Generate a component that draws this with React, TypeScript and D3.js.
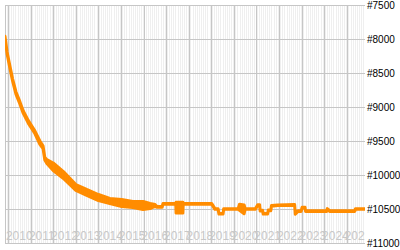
import React from "react";
import * as d3 from "d3";

const dates = [
  "2009-11-12", "2009-12-16", "2010-01-30", "2010-03-15", "2010-05-08", "2010-07-12",
  "2010-09-02", "2010-11-25", "2011-03-10", "2011-05-30", "2011-07-20", "2011-08-18",
  "2011-09-20", "2012-01-01", "2012-06-14", "2013-01-01", "2013-06-25", "2014-01-01",
  "2014-07-05", "2015-01-12", "2015-07-12", "2015-12-24", "2016-04-16", "2016-07-05",
  "2016-08-08", "2016-10-27", "2016-11-10", "2017-06-05", "2017-06-10", "2017-09-28",
  "2017-10-03", "2019-01-08", "2019-03-01", "2019-04-20", "2019-05-05", "2019-07-10",
  "2019-07-20", "2020-03-10", "2020-04-01", "2020-06-15", "2020-07-01", "2020-12-15",
  "2021-01-20", "2021-02-20", "2021-03-01", "2021-04-10", "2021-04-20", "2021-06-30",
  "2021-07-10", "2021-08-20", "2021-09-01", "2021-12-10", "2022-09-10", "2022-09-20",
  "2022-11-05", "2022-12-25", "2023-01-08", "2023-02-25", "2023-03-05", "2024-02-10",
  "2024-02-20", "2024-04-01", "2025-05-10", "2025-05-20", "2025-10-22",
];
const highs = [
  7960, 8190, 8395, 8585, 8775, 8925, 9055, 9200, 9350, 9500, 9570, 9740,
  9775, 9823, 9949, 10140, 10213, 10287, 10346, 10360, 10390, 10390, 10419, 10434,
  10465, 10465, 10420, 10420, 10400, 10400, 10420, 10420, 10495, 10495, 10565, 10565,
  10495, 10495, 10430, 10440, 10495, 10495, 10436, 10436, 10520, 10520, 10565, 10565,
  10515, 10515, 10450, 10440, 10435, 10560, 10525, 10525, 10475, 10475, 10525, 10525,
  10495, 10525, 10525, 10495, 10495,
];
const lows = [
  7990, 8220, 8430, 8620, 8810, 8960, 9090, 9240, 9390, 9550, 9610, 9780,
  9830, 9934, 10051, 10228, 10301, 10375, 10419, 10463, 10478, 10507, 10493, 10463,
  10475, 10475, 10430, 10430, 10560, 10560, 10430, 10430, 10505, 10505, 10575, 10575,
  10505, 10505, 10520, 10570, 10505, 10505, 10446, 10446, 10530, 10530, 10575, 10575,
  10525, 10525, 10460, 10450, 10445, 10575, 10535, 10535, 10485, 10485, 10535, 10535,
  10510, 10535, 10535, 10505, 10505,
];
const yTicks = [7500, 8000, 8500, 9000, 9500, 10000, 10500, 11000];
const yearLabels = [2010, 2011, 2012, 2013, 2014, 2015, 2016, 2017, 2018, 2019, 2020, 2021, 2022, 2023, 2024, 2025];

const W = 400, H = 250;
const L = 5, R = 365, T = 5, B = 243;
const ORANGE = "#ff8c00";
const GRID = "#c6c6c6";

export default function App() {
  const parse = d3.timeParse("%Y-%m-%d");
  const start = new Date(2009, 10, 12);
  const end = new Date(2025, 9, 22);
  const x = d3.scaleTime().domain([start, end]).range([L, R]);
  const y = d3.scaleLinear().domain([7500, 11000]).range([T, B]);
  const data = dates.map((d, i) => ({ date: parse(d) as Date, hi: highs[i], lo: lows[i] }));
  const area = d3.area<{ date: Date; hi: number; lo: number }>()
    .x((d) => x(d.date))
    .y0((d) => y(d.lo))
    .y1((d) => y(d.hi));
  const months = d3.timeMonth.range(start, end).filter((m) => m.getMonth() !== 0);
  const years = d3.timeYear.range(start, end);

  return (
    <svg width={W} height={H} style={{ position: "absolute", left: 0, top: 0 }}>
      <defs>
        <clipPath id="plot">
          <rect x={L} y={T} width={R - L} height={B - T} />
        </clipPath>
      </defs>
      <rect x={0} y={0} width={W} height={H} fill="#fff" />
      <rect x={L} y={T} width={R - L} height={B - T} fill="#efefef" />
      <g shapeRendering="crispEdges">
        {months.map((m, i) => (
          <line key={"m" + i} x1={Math.round(x(m)) + 0.5} x2={Math.round(x(m)) + 0.5} y1={T} y2={B} stroke="#ffffff" strokeWidth={1} />
        ))}
        {years.map((yr, i) => (
          <line key={"y" + i} x1={Math.round(x(yr)) + 0.5} x2={Math.round(x(yr)) + 0.5} y1={T} y2={B} stroke={GRID} strokeWidth={1} />
        ))}
        {yTicks.map((t) => (
          <line key={"h" + t} x1={L} x2={R} y1={Math.round(y(t)) + 0.5} y2={Math.round(y(t)) + 0.5} stroke={GRID} strokeWidth={1} />
        ))}
        <line x1={L + 0.5} x2={L + 0.5} y1={T} y2={B + 1} stroke={GRID} strokeWidth={1} />
      </g>
      <g clipPath="url(#plot)">
        {yearLabels.map((yr) => (
          <text key={"yl" + yr} x={x(new Date(yr, 6, 1))} y={240} textAnchor="middle"
            fontFamily="Liberation Sans, Arial, sans-serif" fontSize={12} fill="#c8c8c8">
            {yr}
          </text>
        ))}
        <path d={area(data) || ""} fill={ORANGE} stroke={ORANGE} strokeWidth={3} strokeLinejoin="round" />
      </g>
      {yTicks.map((t) => (
        <text key={"yt" + t} x={367} y={y(t)} dy="0.35em"
          fontFamily="Liberation Sans, Arial, sans-serif" fontSize={10} fill="#000">
          {"#" + t}
        </text>
      ))}
    </svg>
  );
}
